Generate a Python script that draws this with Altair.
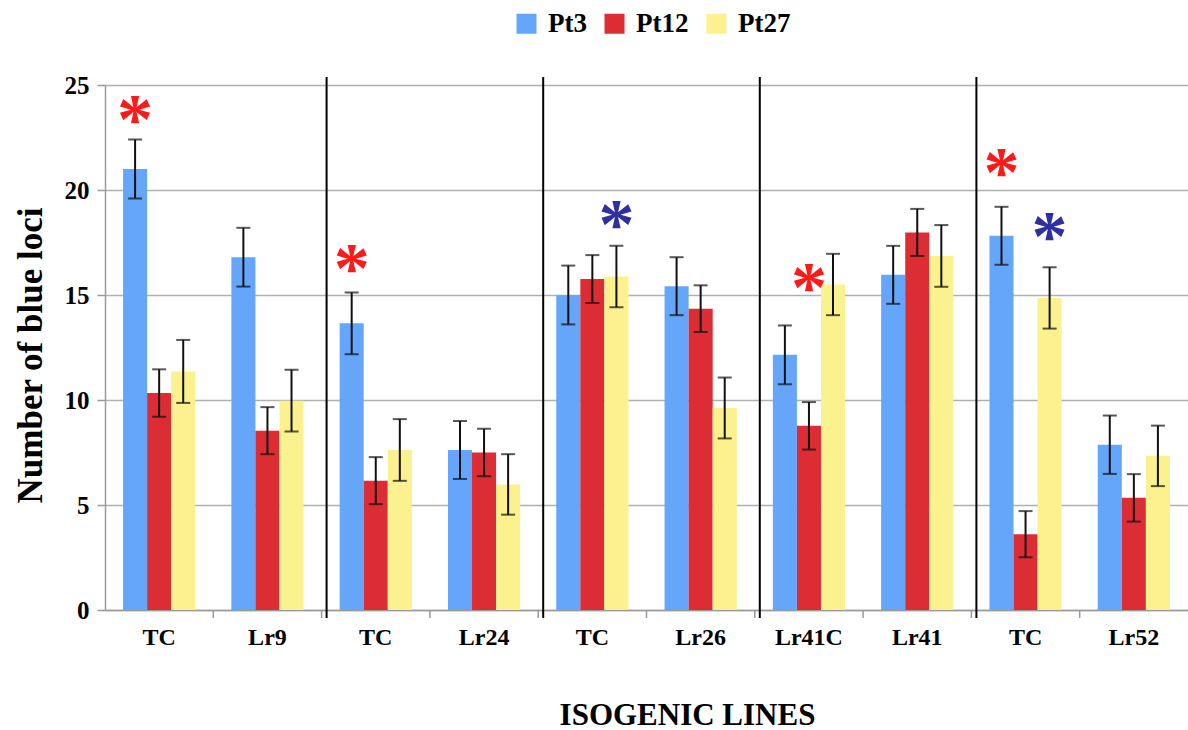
import altair as alt
import pandas as pd

# ---- data ----
categories = ["TC", "Lr9", "TC", "Lr24", "TC", "Lr26", "Lr41C", "Lr41", "TC", "Lr52"]
series_names = ["Pt3", "Pt12", "Pt27"]
series_colors = ["#66a6fa", "#dc2d35", "#fbf18e"]

pt3 = [21.0, 16.8, 13.65, 7.62, 15.0, 15.42, 12.15, 15.96, 17.82, 7.87]
pt3_err = [1.4, 1.4, 1.47, 1.38, 1.4, 1.38, 1.4, 1.38, 1.38, 1.39]
pt12 = [10.33, 8.54, 6.16, 7.5, 15.76, 14.35, 8.77, 17.98, 3.61, 5.34]
pt12_err = [1.13, 1.12, 1.12, 1.13, 1.14, 1.11, 1.13, 1.12, 1.1, 1.13]
pt27 = [11.36, 9.97, 7.62, 5.98, 15.88, 9.62, 15.5, 16.86, 14.86, 7.34]
pt27_err = [1.5, 1.47, 1.47, 1.44, 1.46, 1.45, 1.46, 1.47, 1.46, 1.44]

# significance asterisks: category index, series column, height, colour
star_idx = [0, 2, 4, 6, 8, 8]
star_series = ["Pt3", "Pt3", "Pt27", "Pt12", "Pt3", "Pt27"]
star_y = [23.8, 16.7, 18.8, 15.8, 21.3, 18.26]
star_color = ["#ff1a1a", "#ff1a1a", "#2f2fa0", "#ff1a1a", "#ff1a1a", "#2f2fa0"]

# group separators (before these category indices)
sep_idx = [2, 4, 6, 8]

# ---- build tables ----
rows = []
for vals, errs, name in [(pt3, pt3_err, "Pt3"), (pt12, pt12_err, "Pt12"), (pt27, pt27_err, "Pt27")]:
    for i, (v, e) in enumerate(zip(vals, errs)):
        rows.append({"idx": i, "series": name, "value": v, "lo": v - e, "hi": v + e})
df = pd.DataFrame(rows)
stars = pd.DataFrame({"idx": star_idx, "series": star_series, "y": star_y, "color": star_color})
seps = pd.DataFrame({"idx": sep_idx})
bticks = pd.DataFrame({"idx": list(range(1, len(categories)))})

FONT = "Liberation Serif"
W, H = 1083, 525
label_expr = "[" + ",".join("'%s'" % c for c in categories) + "][datum.value]"

xscale = alt.Scale(domain=list(range(len(categories))), paddingInner=0, paddingOuter=0)
xoff = alt.XOffset("series:N", scale=alt.Scale(domain=series_names, paddingOuter=0.75, paddingInner=0))
yscale = alt.Scale(domain=[0, 25], nice=False)

base = alt.Chart(df)

bars = base.mark_bar().encode(
    x=alt.X("idx:O", scale=xscale,
            axis=alt.Axis(labelExpr=label_expr, labelAngle=0, ticks=False,
                          labelFont=FONT, labelFontWeight="bold", labelFontSize=24,
                          labelColor="black", labelPadding=15,
                          domainColor="#9a9a9a", domainWidth=1.5,
                          title="ISOGENIC LINES", titleFont=FONT, titleFontWeight="bold",
                          titleFontSize=31, titleColor="black",
                          titleX=582, titleY=114, titleBaseline="alphabetic", titleAlign="center")),
    xOffset=xoff,
    y=alt.Y("value:Q", scale=yscale,
            axis=alt.Axis(values=[0, 5, 10, 15, 20, 25], grid=True, gridColor="#b0b0b0", gridWidth=1.5,
                          tickColor="#9a9a9a", tickSize=8, tickWidth=1.5,
                          domainColor="#9a9a9a", domainWidth=1.5,
                          labelFont=FONT, labelFontWeight="bold", labelFontSize=25,
                          labelColor="black", labelPadding=8,
                          title="Number of blue loci", titleFont=FONT, titleFontWeight="bold",
                          titleFontSize=35, titleColor="black",
                          titleX=-64, titleY=270, titleBaseline="alphabetic", titleAlign="center")),
    color=alt.Color("series:N", scale=alt.Scale(domain=series_names, range=series_colors),
                    legend=alt.Legend(title=None, orient="none", legendX=408, legendY=-75,
                                      direction="horizontal", symbolType="square", symbolSize=400,
                                      symbolStrokeWidth=0, labelFont=FONT, labelFontWeight="bold",
                                      labelFontSize=27, labelColor="black", labelOffset=8,
                                      columnPadding=14)),
)

err_rule = base.mark_rule(color="#111111", strokeWidth=2).encode(
    x=alt.X("idx:O", scale=xscale), xOffset=xoff,
    y=alt.Y("lo:Q", scale=yscale), y2="hi:Q")
cap_lo = base.mark_tick(color="#111111", thickness=2, size=14).encode(
    x=alt.X("idx:O", scale=xscale), xOffset=xoff, y=alt.Y("lo:Q", scale=yscale))
cap_hi = base.mark_tick(color="#111111", thickness=2, size=14).encode(
    x=alt.X("idx:O", scale=xscale), xOffset=xoff, y=alt.Y("hi:Q", scale=yscale))

star_marks = alt.Chart(stars).mark_text(text="*", font=FONT, fontWeight="bold", fontSize=72,
                                        baseline="alphabetic", dy=33).encode(
    x=alt.X("idx:O", scale=xscale), xOffset=xoff,
    y=alt.Y("y:Q", scale=yscale),
    color=alt.Color("color:N", scale=None))

sep_rules = alt.Chart(seps).mark_rule(color="black", strokeWidth=2, xOffset=5).encode(
    x=alt.X("idx:O", scale=xscale, bandPosition=0),
    y=alt.value(-8), y2=alt.value(H + 8))

bottom_ticks = alt.Chart(bticks).mark_rule(color="#9a9a9a", strokeWidth=1.5).encode(
    x=alt.X("idx:O", scale=xscale, bandPosition=0),
    y=alt.value(H), y2=alt.value(H + 8))

chart = alt.layer(bars, err_rule, cap_lo, cap_hi, star_marks, sep_rules, bottom_ticks).properties(
    width=W, height=H,
    autosize=alt.AutoSizeParams(type="none"),
    padding={"left": 105, "top": 85, "right": 0, "bottom": 120},
    background="white",
).configure_view(stroke=None)

chart.save("out.html", embed_options={"renderer": "svg", "actions": False})
